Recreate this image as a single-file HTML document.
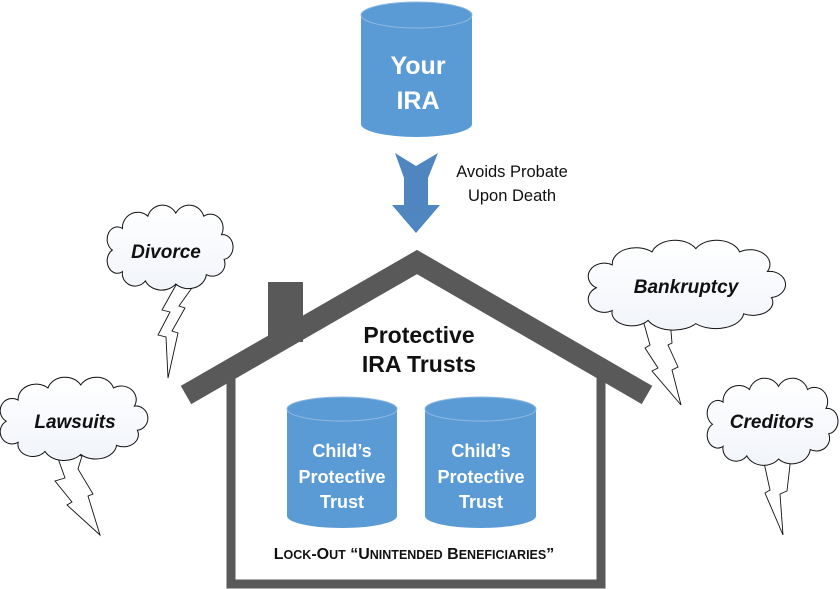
<!DOCTYPE html>
<html><head><meta charset="utf-8"><style>
html,body{margin:0;padding:0;background:#fff;}
svg{display:block;font-family:"Liberation Sans",sans-serif;}
</style></head><body>
<svg width="840" height="589" viewBox="0 0 840 589" xmlns="http://www.w3.org/2000/svg">
<defs>
<linearGradient id="cg" x1="0" y1="0" x2="0" y2="1"><stop offset="0" stop-color="#ffffff"/><stop offset="1" stop-color="#f1f4fa"/></linearGradient>
<path id="cloud" vector-effect="non-scaling-stroke" d="M6,32 A8,8 0 0 1 14,18 A12,10 0 0 1 34,10 A12,10 0 0 1 56,8 A12,10 0 0 1 78,10 A10,9 0 0 1 92,22 A8,8 0 0 1 94,38 A10,8 0 0 1 80,48 A14,10 0 0 1 56,54 A14,10 0 0 1 32,52 A10,8 0 0 1 14,46 A8,8 0 0 1 6,32 Z"/>
</defs>
<!-- Top cylinder -->
<path d="M361,15 L361,124 A55.5,13 0 0 0 472,124 L472,15 Z" fill="#5b9bd5"/>
<ellipse cx="416.5" cy="15" rx="55.5" ry="13" fill="#5b9bd5" stroke="#8fb8e0" stroke-width="1"/>
<text x="418" y="74" fill="#fff" font-size="25" font-weight="bold" text-anchor="middle">Your</text>
<text x="418" y="109" fill="#fff" font-size="25" font-weight="bold" text-anchor="middle">IRA</text>
<!-- Arrow -->
<polygon points="395,153 416,166 438,153 428,178 428,205 440,205 416,233 392,205 404,205 404,178" fill="#4f86c0"/>
<text x="512" y="177" font-size="16.5" text-anchor="middle" fill="#111">Avoids Probate</text>
<text x="512" y="201" font-size="16.5" text-anchor="middle" fill="#111">Upon Death</text>
<!-- House -->
<rect x="268" y="282" width="35" height="60" fill="#595959"/>
<polyline points="186,395 417,262 647,395" fill="none" stroke="#595959" stroke-width="21" stroke-linejoin="miter"/>
<polyline points="231,378 231,584 601,584 601,378" fill="none" stroke="#595959" stroke-width="9"/>
<text x="419" y="343" font-size="23" font-weight="bold" text-anchor="middle" fill="#111">Protective</text>
<text x="419" y="372" font-size="23" font-weight="bold" text-anchor="middle" fill="#111">IRA Trusts</text>
<!-- child cylinders -->
<path d="M287,409 L287,516 A55,12 0 0 0 397,516 L397,409 Z" fill="#5b9bd5"/>
<ellipse cx="342" cy="409" rx="55" ry="12" fill="#5b9bd5" stroke="#8fb8e0"/>
<path d="M425,409 L425,516 A55.5,12 0 0 0 536,516 L536,409 Z" fill="#5b9bd5"/>
<ellipse cx="480.5" cy="409" rx="55.5" ry="12" fill="#5b9bd5" stroke="#8fb8e0"/>
<g fill="#fff" font-size="18" font-weight="bold" text-anchor="middle">
<text x="342" y="457">Child’s</text><text x="342" y="483">Protective</text><text x="342" y="508">Trust</text>
<text x="481" y="457">Child’s</text><text x="481" y="483">Protective</text><text x="481" y="508">Trust</text>
</g>
<text x="414" y="559" font-size="16" font-weight="bold" text-anchor="middle" fill="#111">L<tspan font-size="12.5">OCK</tspan>-O<tspan font-size="12.5">UT</tspan> “U<tspan font-size="12.5">NINTENDED</tspan> B<tspan font-size="12.5">ENEFICIARIES</tspan>”</text>
<!-- Bolts -->
<g fill="#fff" stroke="#111" stroke-width="0.9">
<polygon points="176,285 162,310 170,312 158,335 166,337 168,378 178,333 172,331 185,308 179,306 194,285"/>
<polygon points="643,320 650,345 645,348 658,368 652,371 681,405 672,370 678,367 668,345 672,343 670,320"/>
<polygon points="763,458 770,490 765,493 783,535 780,494 787,491 791,456"/>
<polygon points="55,450 65,478 55,481 72,502 67,505 100,535 88,496 93,494 78,469 82,456"/>
</g>
<!-- Clouds -->
<g fill="url(#cg)" stroke="#111" stroke-width="1">
<g transform="translate(104.7,200.8) scale(1.27,1.54)"><use href="#cloud"/></g>
<g transform="translate(584.4,235.6) scale(1.99,1.63)"><use href="#cloud"/></g>
<g transform="translate(704.6,373.7) scale(1.32,1.58)"><use href="#cloud"/></g>
<g transform="translate(-2.7,372.9) scale(1.49,1.51)"><use href="#cloud"/></g>
</g>
<g font-size="19" font-weight="bold" font-style="italic" text-anchor="middle" fill="#111">
<text x="166" y="258">Divorce</text>
<text x="686" y="293">Bankruptcy</text>
<text x="772" y="428">Creditors</text>
<text x="75" y="428">Lawsuits</text>
</g>
</svg>
</body></html>
